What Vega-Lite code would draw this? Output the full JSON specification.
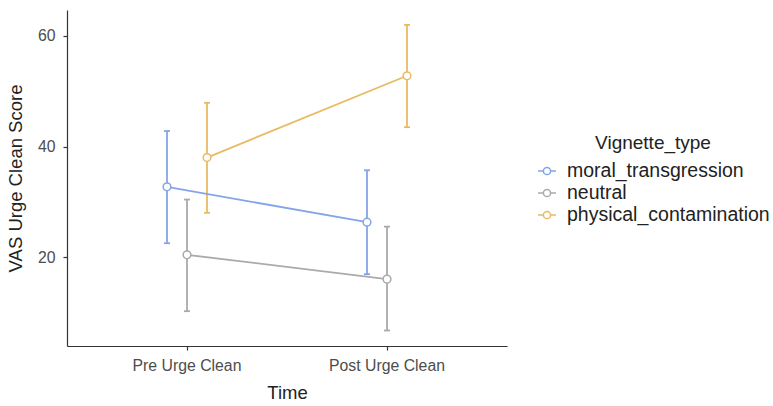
{
  "$schema": "https://vega.github.io/schema/vega-lite/v6.json",
  "width": 440,
  "height": 336,
  "autosize": {"type": "none"},
  "padding": {"left": 67, "top": 10, "right": 266, "bottom": 60},
  "background": "white",
  "config": {
    "view": {"stroke": null},
    "font": "Liberation Sans",
    "axis": {
      "grid": false,
      "domainColor": "#333333",
      "domainWidth": 1.2,
      "tickColor": "#333333",
      "tickWidth": 1.2,
      "tickSize": 4,
      "labelColor": "#4D4D4D",
      "labelFontSize": 15.8,
      "titleFontSize": 18.5,
      "titleFontWeight": "normal",
      "titleColor": "#222222",
      "labelFont": "Liberation Sans",
      "titleFont": "Liberation Sans"
    }
  },
  "data": {
    "values": [
      {"Time": "Pre Urge Clean", "Vignette_type": "moral_transgression", "mean": 32.7, "lo": 22.5, "hi": 42.8},
      {"Time": "Pre Urge Clean", "Vignette_type": "neutral", "mean": 20.4, "lo": 10.2, "hi": 30.4},
      {"Time": "Pre Urge Clean", "Vignette_type": "physical_contamination", "mean": 38.0, "lo": 28.0, "hi": 47.9},
      {"Time": "Post Urge Clean", "Vignette_type": "moral_transgression", "mean": 26.3, "lo": 16.9, "hi": 35.7},
      {"Time": "Post Urge Clean", "Vignette_type": "neutral", "mean": 16.0, "lo": 6.7, "hi": 25.5},
      {"Time": "Post Urge Clean", "Vignette_type": "physical_contamination", "mean": 52.8, "lo": 43.5, "hi": 62.0}
    ]
  },
  "encoding": {
    "x": {
      "field": "Time",
      "type": "nominal",
      "sort": ["Pre Urge Clean", "Post Urge Clean"],
      "scale": {"type": "band", "paddingInner": 0, "paddingOuter": 0.1},
      "axis": {"labelAngle": 0, "labelPadding": 8, "titlePadding": 11, "title": "Time"}
    },
    "xOffset": {
      "field": "Vignette_type",
      "type": "nominal",
      "scale": {"type": "point", "domain": ["moral_transgression", "neutral", "physical_contamination"], "range": [80, 120], "padding": 0}
    },
    "color": {
      "field": "Vignette_type",
      "type": "nominal",
      "scale": {"domain": ["moral_transgression", "neutral", "physical_contamination"], "range": ["#83A5E8", "#AAAAAA", "#E8BB63"]},
      "legend": {
        "orient": "none",
        "legendX": 470,
        "legendY": 124,
        "title": "Vignette_type",
        "titleFontSize": 19,
        "titleFontWeight": "normal",
        "titleColor": "#222222",
        "titleAnchor": "middle",
        "titlePadding": 8,
        "titleLimit": 400,
        "labelFontSize": 19.5,
        "labelColor": "#222222",
        "labelLimit": 400,
        "labelOffset": 10,
        "rowPadding": 2,
        "symbolSize": 324,
        "symbolStrokeWidth": 1.5,
        "symbolFillColor": "white",
        "encode": {
          "symbols": {
            "update": {
              "shape": {"value": "M-1,0L-0.4,0M0.4,0L1,0M0.4,0A0.4,0.4,0,1,1,-0.4,0A0.4,0.4,0,1,1,0.4,0Z"},
              "fill": {"value": "white"},
              "fillOpacity": {"value": 1},
              "strokeWidth": {"value": 1.5},
              "size": {"value": 324},
              "opacity": {"value": 1}
            }
          }
        }
      }
    }
  },
  "layer": [
    {
      "mark": {"type": "rule", "strokeWidth": 1.8},
      "encoding": {
        "y": {"field": "lo", "type": "quantitative", "scale": {"domain": [3.9, 64.7], "nice": false, "zero": false},
          "axis": {"values": [20, 40, 60], "title": "VAS Urge Clean Score", "labelPadding": 8, "titlePadding": 12}},
        "y2": {"field": "hi"}
      }
    },
    {
      "mark": {"type": "point", "shape": "stroke", "filled": false, "size": 36, "strokeWidth": 1.8, "opacity": 1},
      "encoding": {"y": {"field": "lo", "type": "quantitative"}}
    },
    {
      "mark": {"type": "point", "shape": "stroke", "filled": false, "size": 36, "strokeWidth": 1.8, "opacity": 1},
      "encoding": {"y": {"field": "hi", "type": "quantitative"}}
    },
    {
      "mark": {"type": "line", "strokeWidth": 1.8},
      "encoding": {
        "y": {"field": "mean", "type": "quantitative"}
      }
    },
    {
      "mark": {"type": "point", "filled": false, "fill": "white", "size": 60, "strokeWidth": 1.5, "opacity": 1},
      "encoding": {"y": {"field": "mean", "type": "quantitative"}}
    }
  ]
}
